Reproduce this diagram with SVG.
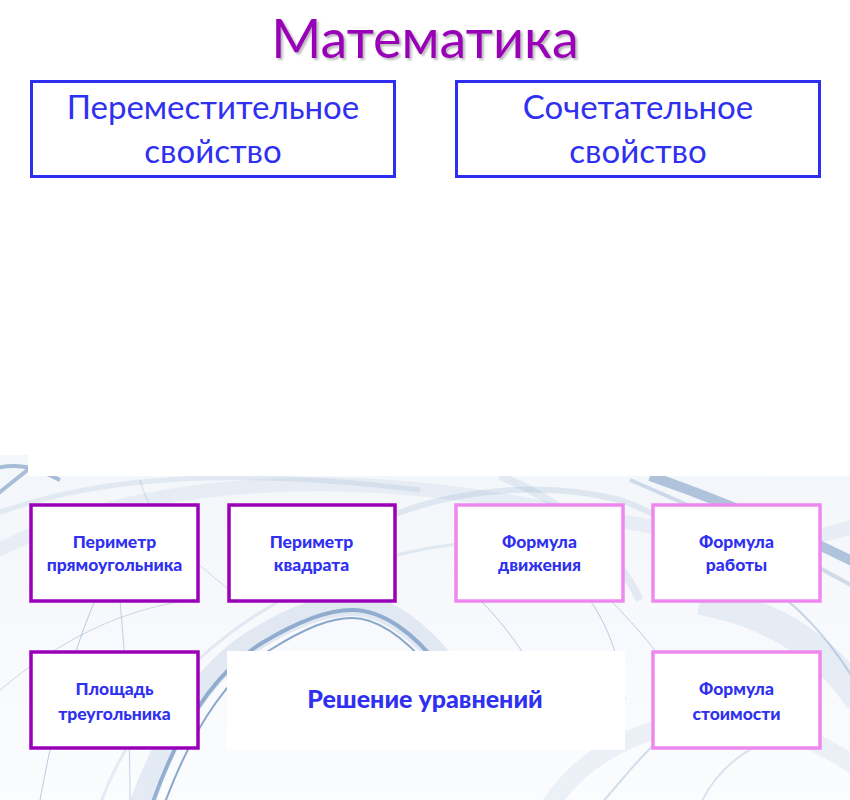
<svg xmlns="http://www.w3.org/2000/svg" width="850" height="800" viewBox="0 0 850 800">
<defs>
<style>
.big{fill:#fff;stroke:#2e2ef0;stroke-width:3}
.pur{fill:#fff;stroke:#9a00b8;stroke-width:3.5}
.pink{fill:#fff;stroke:#ee88f0;stroke-width:3.5}
.t1{font-family:Lato,"Open Sans",sans-serif;font-size:33px;fill:#3030f0;text-anchor:middle}
.t2{font-family:Lato,"Open Sans",sans-serif;font-size:17.5px;font-weight:900;fill:#3030f0;text-anchor:middle}
.t3{font-family:Lato,"Open Sans",sans-serif;font-size:25px;font-weight:900;fill:#3030f0;text-anchor:middle}
.sw{fill:none;stroke:#5a84b5}
</style>
<filter id="sh" x="-10%" y="-20%" width="120%" height="150%">
<feDropShadow dx="2" dy="2" stdDeviation="1" flood-color="#888" flood-opacity="0.6"/>
</filter>
<linearGradient id="bg" x1="0" y1="0" x2="0" y2="1">
<stop offset="0" stop-color="#f3f6fa"/>
<stop offset="1" stop-color="#fbfcfe"/>
</linearGradient>
<clipPath id="clipSw"><path d="M0 455 H28 V476 H850 V800 H0 Z"/></clipPath>
</defs>
<rect width="850" height="800" fill="#fff"/>
<g id="background" clip-path="url(#clipSw)">
<rect x="0" y="455" width="850" height="345" fill="url(#bg)"/>
<path class="sw" d="M-20 560 C120 480 320 470 500 500 S780 560 870 520" stroke-width="14" stroke-opacity="0.08"/>
<path class="sw" d="M-20 520 C100 470 260 470 420 490" stroke-width="5" stroke-opacity="0.12"/>
<path class="sw" d="M-10 470 C20 460 40 470 60 480 M-10 500 L40 460" stroke-width="4" stroke-opacity="0.5"/>
<path class="sw" d="M140 805 C168 730 205 670 255 640 C295 615 325 605 352 605 C385 605 420 630 450 670" stroke-width="22" stroke-opacity="0.14"/>
<path class="sw" d="M152 805 C178 730 214 672 262 643 C300 620 328 610 352 610 C382 610 414 632 442 670" stroke-width="4" stroke-opacity="0.6"/>
<path class="sw" d="M164 805 C190 735 224 678 270 650 C305 628 330 618 352 618 C378 618 405 638 432 670" stroke-width="2" stroke-opacity="0.7"/>
<path class="sw" d="M100 805 C130 720 200 640 300 590 C360 560 440 540 520 540" stroke-width="3" stroke-opacity="0.14"/>
<path class="sw" d="M650 476 C720 500 790 530 860 565" stroke-width="10" stroke-opacity="0.45"/>
<path class="sw" d="M630 480 C700 510 780 545 860 590" stroke-width="4" stroke-opacity="0.25"/>
<path class="sw" d="M500 476 C560 500 610 540 640 600" stroke-width="8" stroke-opacity="0.12"/>
<path class="sw" d="M380 520 C450 490 540 480 620 500 C680 520 720 560 760 600" stroke-width="6" stroke-opacity="0.14"/>
<path class="sw" d="M700 600 C760 610 820 640 860 700" stroke-width="30" stroke-opacity="0.1"/>
<path class="sw" d="M720 560 C770 580 820 620 860 690" stroke-width="2" stroke-opacity="0.3"/>
<path class="sw" d="M550 805 C580 760 630 730 700 720 C760 715 820 740 860 770" stroke-width="18" stroke-opacity="0.09"/>
<path class="sw" d="M600 805 C640 760 680 700 760 690" stroke-width="2" stroke-opacity="0.25"/>
<path class="sw" d="M700 805 C720 760 760 740 800 730" stroke-width="2" stroke-opacity="0.2"/>
<path class="sw" d="M40 800 C55 720 70 660 95 600" stroke-width="1" stroke-opacity="0.4"/>
<path class="sw" d="M120 600 C125 660 130 720 130 800" stroke-width="1" stroke-opacity="0.35"/>
<path class="sw" d="M0 690 C60 640 120 610 190 600" stroke-width="1" stroke-opacity="0.3"/>
<path class="sw" d="M480 600 C520 640 540 680 560 720" stroke-width="1" stroke-opacity="0.4"/>
<path class="sw" d="M590 600 C610 630 620 660 625 700" stroke-width="1" stroke-opacity="0.4"/>
<path class="sw" d="M610 600 C650 640 670 670 690 700" stroke-width="1" stroke-opacity="0.35"/>
<path class="sw" d="M140 480 C150 520 190 560 230 590" stroke-width="1" stroke-opacity="0.25"/>
</g>
<g id="title">
<text x="425" y="58" font-family="Lato,'Open Sans',sans-serif" font-size="54" fill="#9a00b8" text-anchor="middle" filter="url(#sh)">Математика</text>
</g>
<g id="node-perem">
<rect class="big" x="31.5" y="81.5" width="363" height="95"/>
<text class="t1" x="213" y="119">Переместительное</text>
<text class="t1" x="213" y="163">свойство</text>
</g>
<g id="node-sochet">
<rect class="big" x="456.5" y="81.5" width="363" height="95"/>
<text class="t1" x="638" y="119">Сочетательное</text>
<text class="t1" x="638" y="163">свойство</text>
</g>
<g id="node-per-pryam">
<rect class="pur" x="31" y="505" width="167" height="96"/>
<text class="t2" x="114.5" y="548">Периметр</text>
<text class="t2" x="114.5" y="571">прямоугольника</text>
</g>
<g id="node-per-kv">
<rect class="pur" x="229" y="505" width="166" height="96"/>
<text class="t2" x="311.5" y="548">Периметр</text>
<text class="t2" x="311.5" y="571">квадрата</text>
</g>
<g id="node-f-dvizh">
<rect class="pink" x="456" y="505" width="167" height="96"/>
<text class="t2" x="539.5" y="548">Формула</text>
<text class="t2" x="539.5" y="571">движения</text>
</g>
<g id="node-f-rab">
<rect class="pink" x="653" y="505" width="167" height="96"/>
<text class="t2" x="736.5" y="548">Формула</text>
<text class="t2" x="736.5" y="571">работы</text>
</g>
<g id="node-ploshad">
<rect class="pur" x="31" y="652" width="167" height="96"/>
<text class="t2" x="114.5" y="695">Площадь</text>
<text class="t2" x="114.5" y="720">треугольника</text>
</g>
<g id="node-reshenie">
<rect x="227" y="651" width="398" height="99" fill="#fff"/>
<text class="t3" x="425" y="708">Решение уравнений</text>
</g>
<g id="node-f-stoim">
<rect class="pink" x="653" y="652" width="167" height="96"/>
<text class="t2" x="736.5" y="695">Формула</text>
<text class="t2" x="736.5" y="720">стоимости</text>
</g>
<g id="connectors"/>
</svg>
